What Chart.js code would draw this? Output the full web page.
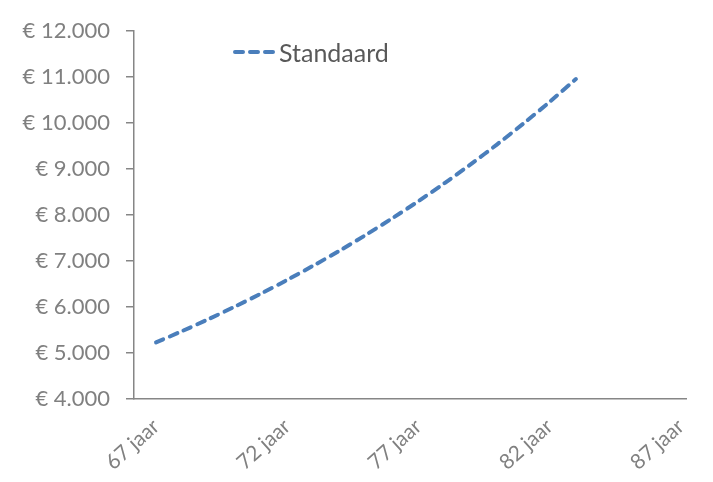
<!DOCTYPE html>
<html lang="nl">
<head>
<meta charset="UTF-8" />
<title>Standaard</title>
<style>
  body { margin: 0; background: #fff; }
  .box { position: relative; width: 713px; height: 482px; }
  .legend {
    position: absolute; left: 233px; top: 37px;
    font-family: Lato, sans-serif; font-size: 25px; color: #595959;
    display: flex; align-items: center;
  }
  .legend svg { margin-right: 4px; }
</style>
</head>
<body>
<div class="box">
  <canvas id="chart" width="713" height="482"></canvas>
  <div class="legend">
    <svg width="42" height="10"><line x1="2" y1="5" x2="40" y2="5" stroke="#4A7EBB" stroke-width="4" stroke-dasharray="8 7" stroke-linecap="round"/></svg>
    <span>Standaard</span>
  </div>
</div>
<script src="https://cdn.jsdelivr.net/npm/chart.js@4.4.1/dist/chart.umd.min.js"></script>
<script>
// leeftijd (jaar) en bedrag per jaar
var ages = [67, 68, 69, 70, 71, 72, 73, 74, 75, 76, 77, 78, 79, 80, 81, 82, 83];
var standaard = [5230, 5477, 5736, 6008, 6292, 6589, 6901, 7227, 7569, 7927, 8302, 8695, 9106, 9537, 9988, 10460, 10955];
var xTicks = [67, 72, 77, 82, 87];

function euro(v) {
  return '€ ' + String(v).replace(/\B(?=(\d{3})+(?!\d))/g, '.');
}

var points = ages.map(function (a, i) { return { x: a, y: standaard[i] }; });

new Chart(document.getElementById('chart'), {
  type: 'line',
  data: {
    datasets: [{
      label: 'Standaard',
      data: points,
      borderColor: '#4A7EBB',
      borderWidth: 4,
      borderDash: [8, 7],
      borderCapStyle: 'round',
      pointRadius: 0,
      tension: 0.3,
      fill: false
    }]
  },
  options: {
    responsive: false,
    animation: false,
    layout: { padding: { top: 31, right: 25, left: 0, bottom: 0 } },
    plugins: { legend: { display: false }, tooltip: { enabled: false } },
    scales: {
      x: {
        type: 'linear',
        min: 66.16,
        max: 87.22,
        afterBuildTicks: function (s) {
          s.ticks = xTicks.map(function (v) { return { value: v }; });
        },
        afterFit: function (s) { s.height = 83; },
        grid: { display: true, drawOnChartArea: false, drawTicks: false },
        border: { color: '#868686', width: 1.5 },
        ticks: {
          minRotation: 42, maxRotation: 42,
          padding: 15,
          color: '#808080',
          font: { family: 'Lato', size: 21 },
          callback: function (v) { return v + ' jaar'; }
        }
      },
      y: {
        min: 4000,
        max: 12000,
        afterFit: function (s) { s.width = 134; },
        grid: { drawOnChartArea: false, drawTicks: true, tickLength: 8, color: '#868686', lineWidth: 1.5 },
        border: { color: '#868686', width: 1.5 },
        ticks: {
          stepSize: 1000,
          padding: 16,
          color: '#808080',
          font: { family: 'Lato', size: 22 },
          callback: function (v) { return euro(v); }
        }
      }
    }
  }
});
</script>
</body>
</html>
